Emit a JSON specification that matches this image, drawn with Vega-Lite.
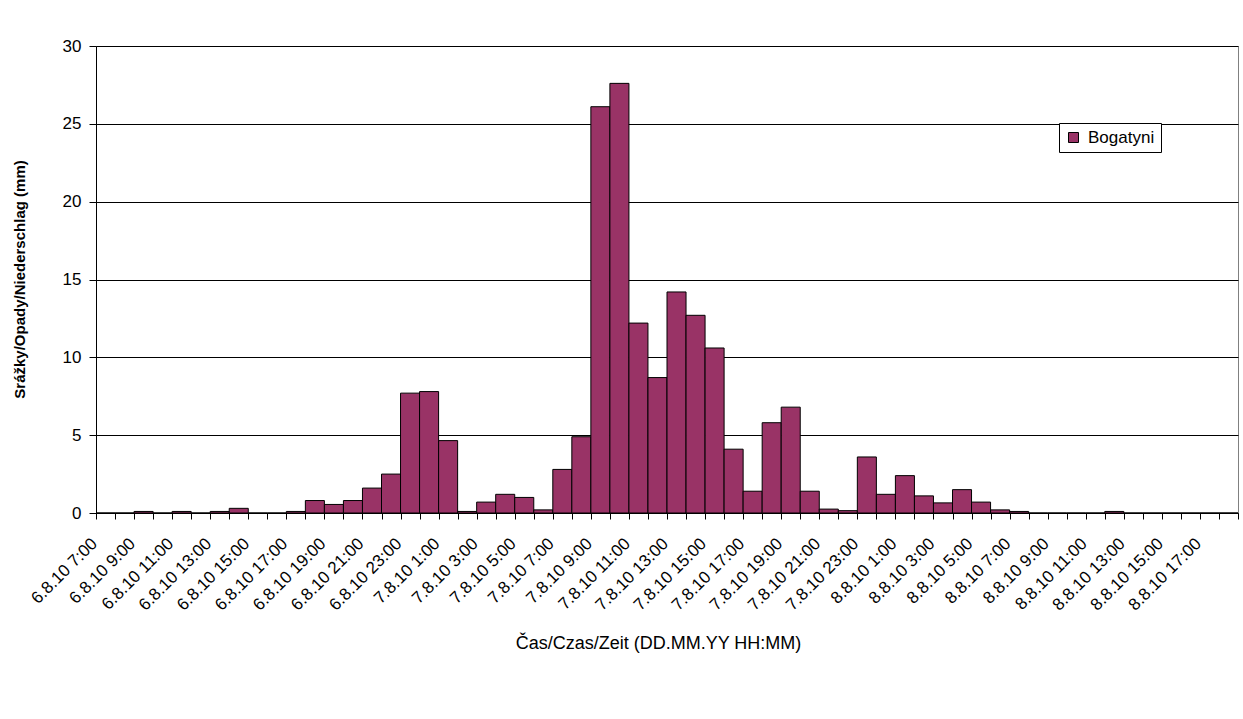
{
  "$schema": "https://vega.github.io/schema/vega-lite/v6.json",
  "width": 1142,
  "height": 467,
  "autosize": {"type": "none"},
  "padding": {"left": 96, "top": 46, "right": 5, "bottom": 206},
  "background": "white",
  "config": {
    "font": "Liberation Sans",
    "view": {"stroke": "#808080", "strokeWidth": 1}
  },
  "data": {
    "values": [
      {"time": "6.8.10 7:00", "precip": 0},
      {"time": "6.8.10 8:00", "precip": 0},
      {"time": "6.8.10 9:00", "precip": 0.1},
      {"time": "6.8.10 10:00", "precip": 0},
      {"time": "6.8.10 11:00", "precip": 0.1},
      {"time": "6.8.10 12:00", "precip": 0},
      {"time": "6.8.10 13:00", "precip": 0.1},
      {"time": "6.8.10 14:00", "precip": 0.3},
      {"time": "6.8.10 15:00", "precip": 0},
      {"time": "6.8.10 16:00", "precip": 0},
      {"time": "6.8.10 17:00", "precip": 0.1},
      {"time": "6.8.10 18:00", "precip": 0.8},
      {"time": "6.8.10 19:00", "precip": 0.55},
      {"time": "6.8.10 20:00", "precip": 0.8},
      {"time": "6.8.10 21:00", "precip": 1.6},
      {"time": "6.8.10 22:00", "precip": 2.5},
      {"time": "6.8.10 23:00", "precip": 7.7},
      {"time": "7.8.10 0:00", "precip": 7.8},
      {"time": "7.8.10 1:00", "precip": 4.65},
      {"time": "7.8.10 2:00", "precip": 0.1},
      {"time": "7.8.10 3:00", "precip": 0.7},
      {"time": "7.8.10 4:00", "precip": 1.2},
      {"time": "7.8.10 5:00", "precip": 1.0},
      {"time": "7.8.10 6:00", "precip": 0.2},
      {"time": "7.8.10 7:00", "precip": 2.8},
      {"time": "7.8.10 8:00", "precip": 4.9},
      {"time": "7.8.10 9:00", "precip": 26.1},
      {"time": "7.8.10 10:00", "precip": 27.6},
      {"time": "7.8.10 11:00", "precip": 12.2},
      {"time": "7.8.10 12:00", "precip": 8.7},
      {"time": "7.8.10 13:00", "precip": 14.2},
      {"time": "7.8.10 14:00", "precip": 12.7},
      {"time": "7.8.10 15:00", "precip": 10.6},
      {"time": "7.8.10 16:00", "precip": 4.1},
      {"time": "7.8.10 17:00", "precip": 1.4},
      {"time": "7.8.10 18:00", "precip": 5.8},
      {"time": "7.8.10 19:00", "precip": 6.8},
      {"time": "7.8.10 20:00", "precip": 1.4},
      {"time": "7.8.10 21:00", "precip": 0.25},
      {"time": "7.8.10 22:00", "precip": 0.15},
      {"time": "7.8.10 23:00", "precip": 3.6},
      {"time": "8.8.10 0:00", "precip": 1.2},
      {"time": "8.8.10 1:00", "precip": 2.4},
      {"time": "8.8.10 2:00", "precip": 1.1},
      {"time": "8.8.10 3:00", "precip": 0.65},
      {"time": "8.8.10 4:00", "precip": 1.5},
      {"time": "8.8.10 5:00", "precip": 0.7},
      {"time": "8.8.10 6:00", "precip": 0.2},
      {"time": "8.8.10 7:00", "precip": 0.1},
      {"time": "8.8.10 8:00", "precip": 0},
      {"time": "8.8.10 9:00", "precip": 0},
      {"time": "8.8.10 10:00", "precip": 0},
      {"time": "8.8.10 11:00", "precip": 0},
      {"time": "8.8.10 12:00", "precip": 0.1},
      {"time": "8.8.10 13:00", "precip": 0},
      {"time": "8.8.10 14:00", "precip": 0},
      {"time": "8.8.10 15:00", "precip": 0},
      {"time": "8.8.10 16:00", "precip": 0},
      {"time": "8.8.10 17:00", "precip": 0},
      {"time": "8.8.10 18:00", "precip": 0}
    ]
  },
  "mark": {"type": "bar", "stroke": "black", "strokeWidth": 1},
  "encoding": {
    "x": {
      "field": "time",
      "type": "ordinal",
      "sort": null,
      "scale": {"paddingInner": 0, "paddingOuter": 0},
      "axis": {
        "title": "Čas/Czas/Zeit (DD.MM.YY HH:MM)",
        "titleFont": "Liberation Sans",
        "titleFontSize": 18,
        "titleFontWeight": "normal",
        "titleColor": "black",
        "titleX": 562,
        "titleY": 130,
        "titleBaseline": "middle",
        "labelExpr": "parseInt(split(split(datum.label, ' ')[1], ':')[0]) % 2 == 1 ? datum.label : ''",
        "labelAngle": -45,
        "labelFont": "Liberation Sans",
        "labelFontSize": 17,
        "labelColor": "black",
        "labelPadding": 16,
        "labelOffset": -17,
        "labelOverlap": false,
        "tickBand": "extent",
        "tickSize": 6,
        "tickColor": "black",
        "domainColor": "black",
        "grid": false
      }
    },
    "y": {
      "field": "precip",
      "type": "quantitative",
      "scale": {"domain": [0, 30]},
      "axis": {
        "title": "Srážky/Opady/Niederschlag (mm)",
        "titleFont": "Liberation Sans",
        "titleFontSize": 15,
        "titleFontWeight": "bold",
        "titleColor": "black",
        "titleX": -69,
        "titleY": 233,
        "values": [0, 5, 10, 15, 20, 25, 30],
        "grid": true,
        "gridColor": "black",
        "gridOpacity": 1,
        "gridWidth": 1,
        "domainColor": "black",
        "tickColor": "black",
        "tickSize": 7,
        "labelPadding": 8,
        "labelFont": "Liberation Sans",
        "labelFontSize": 17,
        "labelColor": "black"
      }
    },
    "fill": {
      "datum": "Bogatyni",
      "type": "nominal",
      "scale": {"range": ["#993366"]},
      "legend": {
        "orient": "none",
        "legendX": 963,
        "legendY": 77,
        "title": null,
        "strokeColor": "black",
        "fillColor": "white",
        "padding": 6,
        "symbolType": "square",
        "symbolSize": 100,
        "symbolStrokeColor": "black",
        "symbolStrokeWidth": 1,
        "symbolOpacity": 1,
        "labelOffset": 6,
        "labelFont": "Liberation Sans",
        "labelFontSize": 17,
        "labelColor": "black"
      }
    }
  }
}
